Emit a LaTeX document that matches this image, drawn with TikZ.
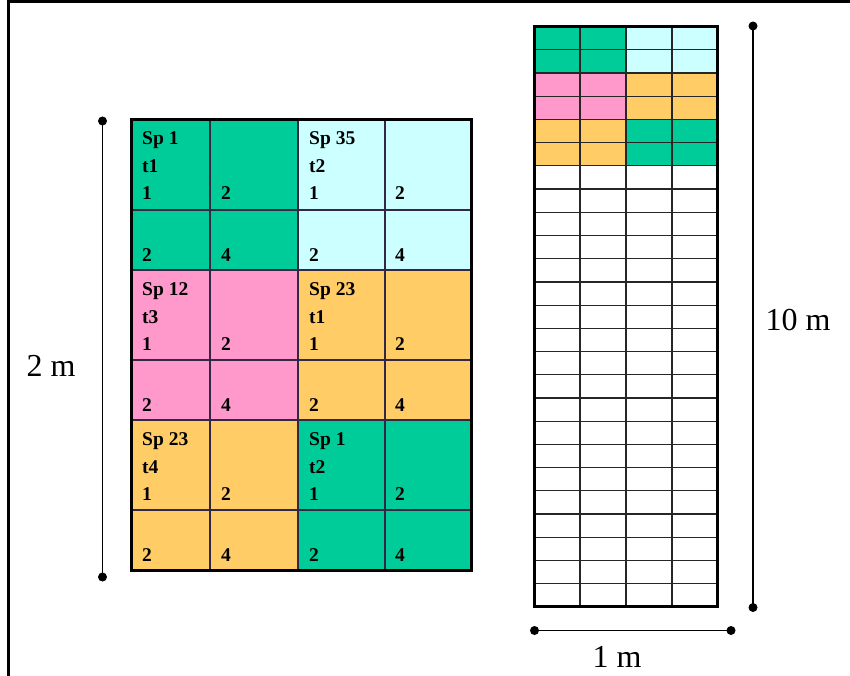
\documentclass[tikz,border=0pt]{standalone}
\usepackage{fontspec}
\setmainfont{Liberation Serif}
\definecolor{cgreen}{RGB}{0,204,153}
\definecolor{ccyan}{RGB}{204,255,255}
\definecolor{cpink}{RGB}{255,153,204}
\definecolor{corange}{RGB}{255,204,102}
\definecolor{gridline}{RGB}{50,40,70}
\tikzset{
  celltxt/.style={anchor=base west,inner sep=0pt,font=\fontsize{19.5}{21}\selectfont\bfseries},
  dimtxt/.style={anchor=base,inner sep=0pt,font=\fontsize{32}{34}\selectfont},
  dimline/.style={line width=1.4pt,black},
  dimdot/.style={fill=black},
  outer/.style={line width=3pt,black},
  inner/.style={line width=1.3pt,gridline},
  rinner/.style={line width=1.2pt,black!85},
}
\newcommand\plotblock[6]{% name, xtext1, xtext2, top, species, treatment
  \node[celltxt] (#1sp) at (#2,#4+25) {#5};
  \node[celltxt] (#1t) at (#2,#4+53) {#6};
  \node[celltxt] (#1a) at (#2,#4+80) {1};
  \node[celltxt] (#1b) at (#3,#4+80) {2};
  \node[celltxt] (#1c) at (#2,#4+141) {2};
  \node[celltxt] (#1d) at (#3,#4+141) {4};
}
\begin{document}
\begin{tikzpicture}[x=1pt,y=-1pt]
\useasboundingbox (0,0) rectangle (850,676);
\fill[white] (0,0) rectangle (850,676);
\draw[line width=3pt] (8,676) -- (8,2) -- (850,2);

% left grid
\fill[cgreen]  (131,120) rectangle (298,270);
\fill[ccyan]   (298,120) rectangle (471,270);
\fill[cpink]   (131,270) rectangle (298,420);
\fill[corange] (298,270) rectangle (471,420);
\fill[corange] (131,420) rectangle (298,570);
\fill[cgreen]  (298,420) rectangle (471,570);
\foreach \x in {210,298,385} \draw[inner] (\x,120) -- (\x,570);
\foreach \y in {210,270,360,420,510} \draw[inner] (131,\y) -- (471,\y);
\draw[outer] (131,120) rectangle (471,570);

\plotblock{ba}{142}{221}{120}{Sp 1}{t1}
\plotblock{bb}{309}{395}{120}{Sp 35}{t2}
\plotblock{bc}{142}{221}{270}{Sp 12}{t3}
\plotblock{bd}{309}{395}{270}{Sp 23}{t1}
\plotblock{be}{142}{221}{420}{Sp 23}{t4}
\plotblock{bf}{309}{395}{420}{Sp 1}{t2}

% right grid
\fill[cgreen]  (534,26.7) rectangle (626,73.1);
\fill[ccyan]   (626,26.7) rectangle (717,73.1);
\fill[cpink]   (534,73.1) rectangle (626,119.5);
\fill[corange] (626,73.1) rectangle (717,119.5);
\fill[corange] (534,119.5) rectangle (626,165.9);
\fill[cgreen]  (626,119.5) rectangle (717,165.9);
\foreach \x in {580,626,672} \draw[rinner] (\x,26.7) -- (\x,606.7);
\foreach \i in {1,...,24} \draw[rinner] (534,26.7+23.2*\i) -- (717,26.7+23.2*\i);
\draw[outer] (534,26.7) rectangle (717,606.7);

% dimension lines
\coordinate (la) at (102.5,121);
\coordinate (lb) at (102.5,577);
\draw[dimline] (la) -- (lb);
\fill[dimdot] (la) circle (4.5);
\fill[dimdot] (lb) circle (4.5);
\node[dimtxt] (lab2) at (51,376) {2 m};

\coordinate (ra) at (753,26);
\coordinate (rb) at (753,607.5);
\draw[dimline] (ra) -- (rb);
\fill[dimdot] (ra) circle (4.5);
\fill[dimdot] (rb) circle (4.5);
\node[dimtxt] (lab10) at (798,330) {10 m};

\coordinate (ba1) at (534.5,630.5);
\coordinate (ba2) at (731,630.5);
\draw[dimline] (ba1) -- (ba2);
\fill[dimdot] (ba1) circle (4.5);
\fill[dimdot] (ba2) circle (4.5);
\node[dimtxt] (lab1) at (617,667) {1 m};
\end{tikzpicture}
\end{document}
